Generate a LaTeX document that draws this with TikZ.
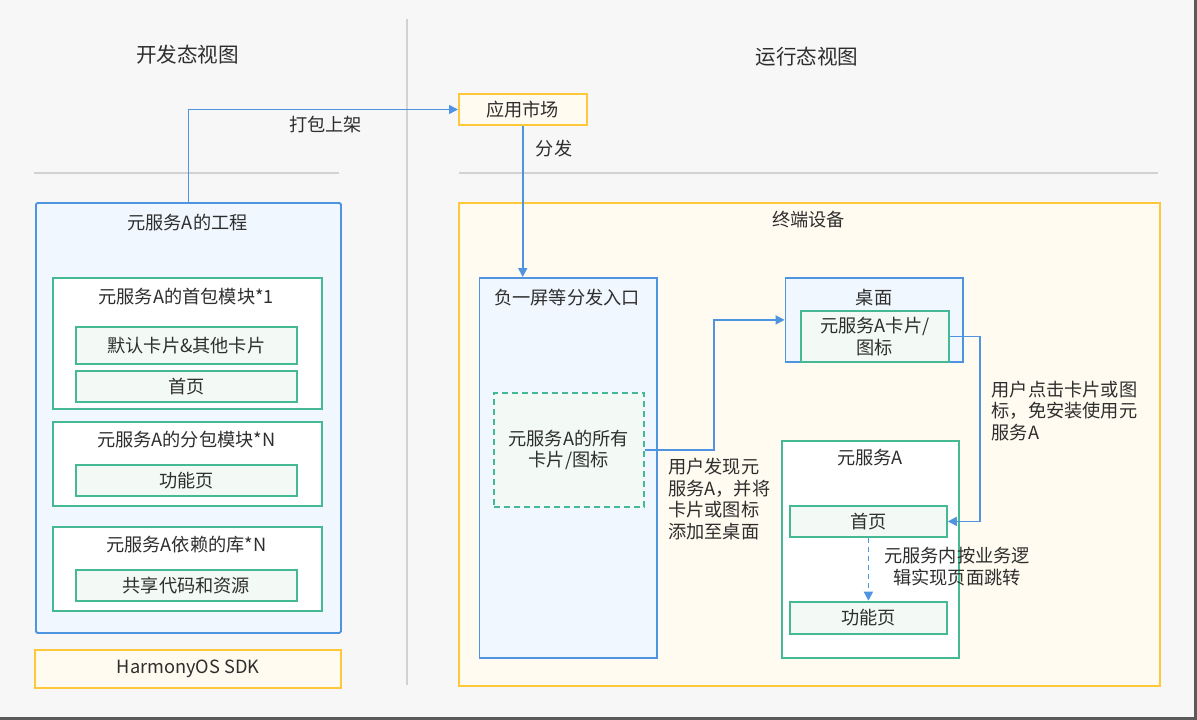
\documentclass[tikz,border=0pt]{standalone}
\usepackage{fontspec}
\setmainfont{Noto Sans CJK SC}
\usetikzlibrary{arrows.meta,calc}
\definecolor{bgc}{HTML}{F7F7F7}
\definecolor{sepc}{HTML}{D2D2D2}
\definecolor{framec}{HTML}{5A5A5A}
\definecolor{bluec}{HTML}{4F94E0}
\definecolor{bluefill}{HTML}{F0F7FE}
\definecolor{greenc}{HTML}{45B894}
\definecolor{greenfill}{HTML}{F3FAF6}
\definecolor{yelc}{HTML}{FFC83A}
\definecolor{yelfill}{HTML}{FFFBF0}
\definecolor{txtc}{HTML}{2E2E2E}
\newcommand\mkbox[7]{\node[#1,anchor=north west,inner sep=0pt,align=center,minimum width={#5pt-#3pt},minimum height={#6pt-#4pt}] (#2) at (#3,#4) {#7};}
\tikzset{
  base/.style={font=\fontsize{18.2}{21.8}\selectfont, text=txtc},
  txt/.style={base, inner sep=0pt},
  ttl/.style={txt, font=\fontsize{20.6}{24}\selectfont},
  bluebox/.style={base, draw=bluec, fill=bluefill, line width=1.8pt, rounded corners=1.5pt},
  bluesq/.style={base, draw=bluec, fill=bluefill, line width=1.8pt},
  greenbox/.style={base, draw=greenc, fill=white, line width=1.8pt},
  greenin/.style={base, draw=greenc, fill=greenfill, line width=1.8pt},
  greendash/.style={base, draw=greenc, fill=greenfill, line width=1.8pt, dash pattern=on 6pt off 4pt},
  yelbox/.style={base, draw=yelc, fill=yelfill, line width=2pt},
  sepline/.style={draw=sepc, line width=1.2pt},
  arr/.style={draw=bluec, line width=1.6pt, -{Triangle[length=9pt,width=9pt]}},
}
\begin{document}
\begin{tikzpicture}[x=1pt,y=-1pt]
\useasboundingbox (0,0) rectangle (1197,720);
\fill[bgc] (0,0) rectangle (1197,720);
\fill[framec] (1194.3,0) rectangle (1197,720);
\fill[framec] (0,716.8) rectangle (1197,720);

% separators
\draw[sepline] (407,19) -- (407,685);
\draw[sepline] (34,173) -- (339,173);
\draw[sepline] (459,173) -- (1158,173);

% titles
\node[ttl] (devt) at (187.5,55) {开发态视图};
\node[ttl] (runt) at (807,57) {运行态视图};

% left: project
\mkbox{bluebox}{proj}{35}{202}{340}{632}{}
\node[txt] (projt) at (187.5,223) {元服务A的工程};

\mkbox{greenbox}{m1}{51.7}{277}{320.7}{407.7}{}
\node[txt] (m1t) at (186.2,297) {元服务A的首包模块*1};
\mkbox{greenin}{cards}{74.7}{325.7}{296.3}{363.3}{默认卡片\&其他卡片}
\mkbox{greenin}{home1}{74.7}{370}{296.3}{400.7}{首页}

\mkbox{greenbox}{m2}{51.7}{420.7}{320.7}{505}{}
\node[txt] (m2t) at (186.2,439.5) {元服务A的分包模块*N};
\mkbox{greenin}{func1}{74.7}{464.3}{296.3}{495}{功能页}

\mkbox{greenbox}{m3}{51.7}{526}{320.7}{610}{}
\node[txt] (m3t) at (186.2,545) {元服务A依赖的库*N};
\mkbox{greenin}{share}{74.7}{569.3}{296.3}{600}{共享代码和资源}

\mkbox{yelbox}{sdk}{34.3}{649}{340}{686.5}{HarmonyOS SDK}

% right: market
\mkbox{yelbox}{market}{458}{93}{585.5}{124}{应用市场}

% terminal device
\mkbox{yelbox}{dev}{458}{202}{1158.5}{685}{}
\node[txt] (devtt) at (808.5,220) {终端设备};

\mkbox{bluesq}{entry}{478.6}{277}{655.7}{657}{}
\node[txt] (entryt) at (567,298) {负一屏等分发入口};
\mkbox{greendash}{allc}{492.7}{392}{642.7}{506}{元服务A的所有\\卡片/图标}

\mkbox{bluesq}{desk}{784.6}{277}{962}{361}{}
\node[txt] (deskt) at (874,298) {桌面};
\mkbox{greenin}{card}{800}{310}{948}{361}{\fontsize{18.2}{20}\selectfont 元服务A卡片/\\图标}

\mkbox{greenbox}{svc}{780.7}{440}{957.7}{656.7}{}
\node[txt] (svct) at (870,458) {元服务A};
\mkbox{greenin}{home2}{789}{505}{946}{536}{首页}
\mkbox{greenin}{func2}{789}{600.7}{946}{632.7}{功能页}

% connectors
\draw[arr] (proj.north) |- (market.west);
\node[txt] (packl) at (325.5,125) {打包上架};

\draw[arr] (market.south) -- (market.south |- entry.north);
\node[txt] (distl) at (554,149) {分发};

\coordinate (c1) at (714,449);
\draw[arr] (allc.east) -- (c1 |- allc.east) |- (desk.west);
\node[txt, anchor=west, align=left] (addl) at (668,499) {用户发现元\\服务A，并将\\卡片或图标\\添加至桌面};

\coordinate (c2) at (980,420);
\draw[arr] (card.east) -| (c2) |- (home2.east);
\node[txt, anchor=west, align=left] (clickl) at (991.5,411) {用户点击卡片或图\\标，免安装使用元\\服务A};

\draw[arr, dash pattern=on 5pt off 4pt] (home2.south) -- (func2.north);
\node[txt, align=center] (jumpl) at (957,566.5) {元服务内按业务逻\\辑实现页面跳转};
\end{tikzpicture}
\end{document}
